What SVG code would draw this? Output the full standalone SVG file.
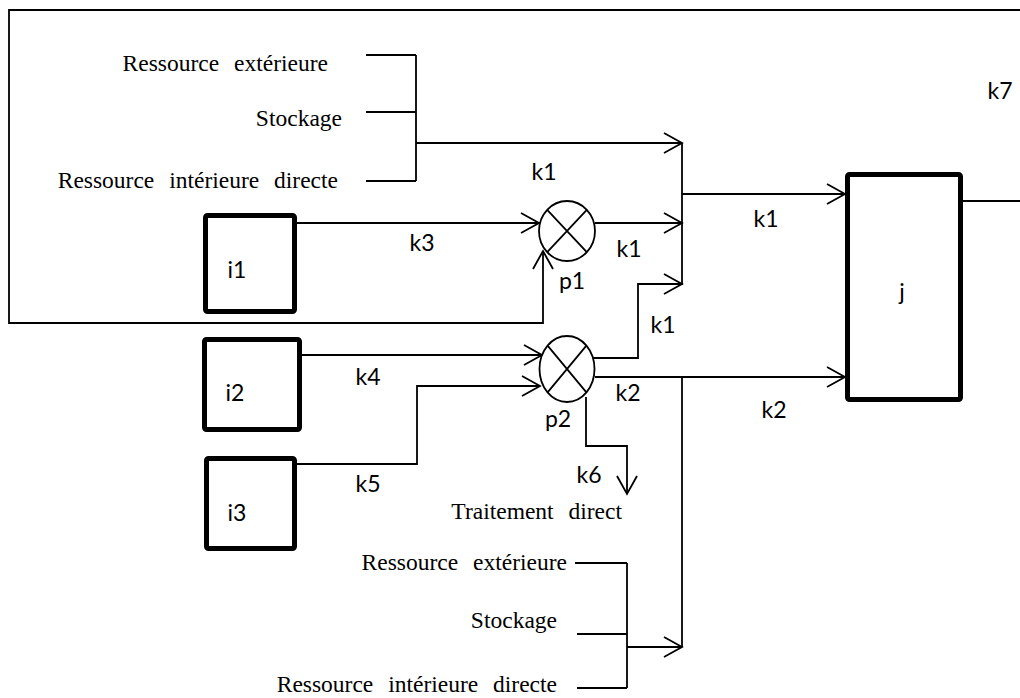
<svg xmlns="http://www.w3.org/2000/svg" width="1020" height="698" viewBox="0 0 1020 698">
<style>
.box{fill:#fff;stroke:#000;stroke-width:5;stroke-linejoin:round}
.ln{fill:none;stroke:#000;stroke-width:1.8}
.pr{fill:#fff;stroke:#000;stroke-width:1.8}
.lb{font-family:Lato,"Open Sans",sans-serif;font-size:23px;fill:#000;text-anchor:middle}
.sf{font-family:"Liberation Serif","Times New Roman",serif;font-size:23.5px;fill:#000;word-spacing:9px;text-anchor:end}
</style>
<defs>
<marker id="ar" viewBox="-2 -2 22 24" refX="18" refY="10" markerWidth="22" markerHeight="24" markerUnits="userSpaceOnUse" orient="auto" overflow="visible">
<path d="M0,0 L18,10 L0,20" fill="none" stroke="#000" stroke-width="1.8"/>
</marker>
</defs>
<rect width="1020" height="698" fill="#fff"/>
<g id="connectors">
<path class="ln" d="M963,201 H1030 V10 H9 V323 H543 V251" marker-end="url(#ar)"/>
<path class="ln" d="M366,55 H416 M366,112 H416 M366,181 H416 M416,55 V181"/>
<path class="ln" d="M416,143 H682" marker-end="url(#ar)"/>
<path class="ln" d="M682,143 V285"/>
<path class="ln" d="M682,194 H845" marker-end="url(#ar)"/>
<path class="ln" d="M297,223 H539" marker-end="url(#ar)"/>
<path class="ln" d="M595,223 H682" marker-end="url(#ar)"/>
<path class="ln" d="M593,358 H638 V284 H682" marker-end="url(#ar)"/>
<path class="ln" d="M302,355 H542" marker-end="url(#ar)"/>
<path class="ln" d="M297,464 H417 V386 H540" marker-end="url(#ar)"/>
<path class="ln" d="M595,377 H845" marker-end="url(#ar)"/>
<path class="ln" d="M586,397 V446 H627 V494" marker-end="url(#ar)"/>
<path class="ln" d="M575,563 H627 M577,634 H627 M577,688 H627 M627,563 V688"/>
<path class="ln" d="M627,647 H682" marker-end="url(#ar)"/>
<path class="ln" d="M682,378 V647"/>
</g>
<g id="i1"><rect class="box" x="205.5" y="215.5" width="89" height="96" rx="2"/><text class="lb" x="237" y="278">i1</text></g>
<g id="i2"><rect class="box" x="204.5" y="339.5" width="95" height="90" rx="2"/><text class="lb" x="235" y="401">i2</text></g>
<g id="i3"><rect class="box" x="206.5" y="458.5" width="88" height="90" rx="2"/><text class="lb" x="237" y="521">i3</text></g>
<g id="j"><rect class="box" x="847.5" y="174.5" width="113" height="225" rx="2"/><text class="lb" x="902" y="300">j</text></g>
<g id="p1"><ellipse class="pr" cx="567" cy="231" rx="28" ry="30"/><path class="ln" d="M547.2,209.8 L586.8,252.2 M586.8,209.8 L547.2,252.2"/><text class="lb" x="572" y="289">p1</text></g>
<g id="p2"><ellipse class="pr" cx="567" cy="369" rx="27.5" ry="33"/><path class="ln" d="M547.6,345.7 L586.4,392.3 M586.4,345.7 L547.6,392.3"/><text class="lb" x="558" y="427">p2</text></g>
<g id="labels">
<text class="sf" x="328" y="71">Ressource extérieure</text>
<text class="sf" x="342" y="126">Stockage</text>
<text class="sf" x="338" y="188">Ressource intérieure directe</text>
<text class="sf" x="567" y="570">Ressource extérieure</text>
<text class="sf" x="557" y="628">Stockage</text>
<text class="sf" x="557" y="692">Ressource intérieure directe</text>
<text class="sf" x="622" y="519">Traitement direct</text>
<text class="lb" x="544" y="180">k1</text>
<text class="lb" x="422" y="251">k3</text>
<text class="lb" x="629" y="257">k1</text>
<text class="lb" x="663" y="333">k1</text>
<text class="lb" x="368" y="385">k4</text>
<text class="lb" x="368" y="492">k5</text>
<text class="lb" x="628" y="401">k2</text>
<text class="lb" x="589" y="483">k6</text>
<text class="lb" x="766" y="227">k1</text>
<text class="lb" x="774" y="418">k2</text>
<text class="lb" x="1000" y="99">k7</text>
</g>
</svg>
